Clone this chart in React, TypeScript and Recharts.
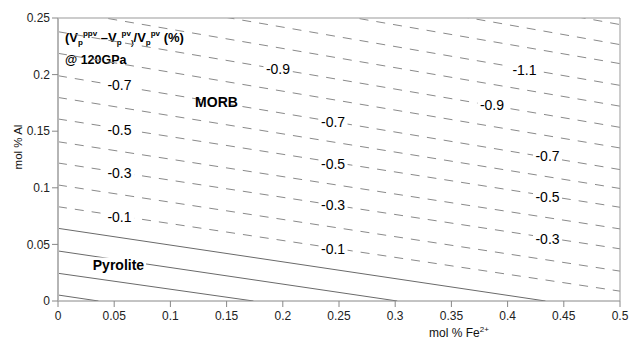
import React from 'react';
import { ComposedChart, Line, Scatter, XAxis, YAxis, Customized } from 'recharts';

// ---- data ----
const xTicks = [0, 0.05, 0.1, 0.15, 0.2, 0.25, 0.3, 0.35, 0.4, 0.45, 0.5];
const yTicks = [0, 0.05, 0.1, 0.15, 0.2, 0.25];

// dashed (negative) contour levels: y at x = 0 and y at x = 0.5
const dashedLevels = [-0.1, -0.2, -0.3, -0.4, -0.5, -0.6, -0.7, -0.8, -0.9, -1.0, -1.1, -1.2, -1.3, -1.4];
const dashedLeftY = [0.0833, 0.1025, 0.1219, 0.1407, 0.1608, 0.1798, 0.199, 0.2188, 0.2379, 0.2571, 0.2762, 0.2954, 0.3145, 0.3337];
const dashedRightY = [0.0087, 0.0264, 0.0461, 0.0637, 0.0828, 0.0994, 0.1161, 0.1352, 0.1534, 0.1721, 0.1905, 0.2097, 0.2265, 0.2442];

// solid contour levels: y at x = 0, and x where they reach y = 0
const solidLevels = [0, 0.1, 0.2, 0.3];
const solidLeftY = [0.0642, 0.0442, 0.0245, 0.0053];
const solidEndX = [0.4337, 0.3018, 0.1739, 0.036];

// contour labels
const labelText = ['-0.1', '-0.3', '-0.5', '-0.7', '-0.9', '-1.1', '-0.9', '-0.7', '-0.5', '-0.3', '-0.1', '-0.7', '-0.5', '-0.3'];
const labelX = [0.0547, 0.0547, 0.0547, 0.0547, 0.1957, 0.415, 0.3861, 0.2447, 0.2447, 0.2447, 0.2447, 0.4355, 0.4355, 0.4355];
const labelY = [0.0742, 0.1135, 0.1511, 0.1908, 0.2049, 0.2045, 0.1731, 0.1586, 0.1215, 0.0848, 0.0459, 0.1281, 0.0923, 0.0552];

// region annotations
const regionText = ['MORB', 'Pyrolite'];
const regionX = [0.141, 0.0538];
const regionY = [0.1758, 0.0322];

const FONT = '"Liberation Sans", Arial, sans-serif';

const dashedLines = dashedLevels.map((lv, i) => ({
  level: lv,
  data: [
    { x: 0, y: dashedLeftY[i] },
    { x: 0.5, y: dashedRightY[i] },
  ],
}));
const solidLines = solidLevels.map((lv, i) => ({
  level: lv,
  data: [
    { x: 0, y: solidLeftY[i] },
    { x: solidEndX[i], y: 0 },
  ],
}));
const labelData = labelText.map((t, i) => ({ x: labelX[i], y: labelY[i], text: t }));
const regionData = regionText.map((t, i) => ({ x: regionX[i], y: regionY[i], text: t }));

const ContourLabel = (props: any) => {
  const { cx, cy, payload } = props;
  if (cx == null || cy == null) return null;
  const w = payload.text.length * 6 + 5;
  return (
    <g>
      <rect x={cx - w / 2} y={cy - 6.5} width={w} height={13} fill="#fff" />
      <text x={cx} y={cy} dy="0.36em" textAnchor="middle" fontFamily={FONT} fontSize={14} fill="#000">
        {payload.text}
      </text>
    </g>
  );
};

const RegionLabel = (props: any) => {
  const { cx, cy, payload } = props;
  if (cx == null || cy == null) return null;
  const w = payload.text.length * 6.4 + 4;
  return (
    <g>
      <rect x={cx - w / 2} y={cy - 7} width={w} height={14} fill="#fff" />
      <text x={cx} y={cy} dy="0.36em" textAnchor="middle" fontFamily={FONT} fontSize={14} fontWeight="bold" fill="#000">
        {payload.text}
      </text>
    </g>
  );
};

const Annotations = () => (
  <g fontFamily={FONT}>
    <rect x={62} y={29} width={126} height={19} fill="#fff" />
    <rect x={62} y={53} width={63} height={14} fill="#fff" />
    <text x={65} y={42} fontSize={13} fontWeight="bold" fill="#000">
      (V
      <tspan dy={3} fontSize={8}>p</tspan>
      <tspan dy={-9} fontSize={8}>ppv</tspan>
      <tspan dy={6} fontSize={13}> –V</tspan>
      <tspan dy={3} fontSize={8}>p</tspan>
      <tspan dy={-9} fontSize={8}>pv</tspan>
      <tspan dy={9} fontSize={8}>)</tspan>
      <tspan dy={-3} fontSize={13}>/V</tspan>
      <tspan dy={3} fontSize={8}>p</tspan>
      <tspan dy={-9} fontSize={8}>pv</tspan>
      <tspan dy={6} fontSize={13}> (%)</tspan>
    </text>
    <text x={65} y={64} fontSize={12.5} fontWeight="bold" fill="#000">@ 120GPa</text>
    <text x={0} y={0} transform="translate(22,147) rotate(-90)" textAnchor="middle" fontSize={11.5} fill="#111">
      mol % Al
    </text>
    <text x={429} y={337} fontSize={12} fill="#111">
      mol % Fe
      <tspan dy={-5} fontSize={8}>2+</tspan>
    </text>
  </g>
);

export default function App() {
  return (
    <div style={{ position: 'absolute', left: 0, top: 0, background: '#fff' }}>
      <ComposedChart width={630} height={339} margin={{ top: 0, right: 0, bottom: 0, left: 0 }}>
        <XAxis
          xAxisId={0}
          dataKey="x"
          type="number"
          domain={[0, 0.5]}
          ticks={xTicks}
          allowDataOverflow
          height={38}
          tickSize={6}
          tickMargin={4}
          interval={0}
          stroke="#888"
          tick={{ fill: '#222', fontSize: 12, fontFamily: FONT }}
        />
        <XAxis
          xAxisId="top"
          orientation="top"
          dataKey="x"
          type="number"
          domain={[0, 0.5]}
          ticks={xTicks}
          allowDataOverflow
          height={18}
          tickSize={6}
          tick={false}
          stroke="#999"
        />
        <YAxis
          yAxisId={0}
          dataKey="y"
          type="number"
          domain={[0, 0.25]}
          ticks={yTicks}
          allowDataOverflow
          width={58}
          tickSize={6}
          tickMargin={2}
          interval={0}
          axisLine={{ stroke: '#b5b5b5', strokeWidth: 2 }}
          tickLine={{ stroke: '#888' }}
          tick={{ fill: '#222', fontSize: 12, fontFamily: FONT }}
        />
        <YAxis
          yAxisId="right"
          orientation="right"
          dataKey="y"
          type="number"
          domain={[0, 0.25]}
          ticks={yTicks}
          allowDataOverflow
          width={10}
          tickSize={6}
          tick={false}
          stroke="#999"
        />
        {dashedLines.map((l) => (
          <Line
            key={'d' + l.level}
            data={l.data}
            dataKey="y"
            type="linear"
            stroke="#8a8a8a"
            strokeWidth={1}
            strokeDasharray="9 8"
            dot={false}
            activeDot={false}
            isAnimationActive={false}
          />
        ))}
        {solidLines.map((l) => (
          <Line
            key={'s' + l.level}
            data={l.data}
            dataKey="y"
            type="linear"
            stroke="#6a6a6a"
            strokeWidth={1}
            dot={false}
            activeDot={false}
            isAnimationActive={false}
          />
        ))}
        <Scatter data={labelData} shape={ContourLabel} isAnimationActive={false} />
        <Scatter data={regionData} shape={RegionLabel} isAnimationActive={false} />
        <Customized component={Annotations} />
      </ComposedChart>
    </div>
  );
}
